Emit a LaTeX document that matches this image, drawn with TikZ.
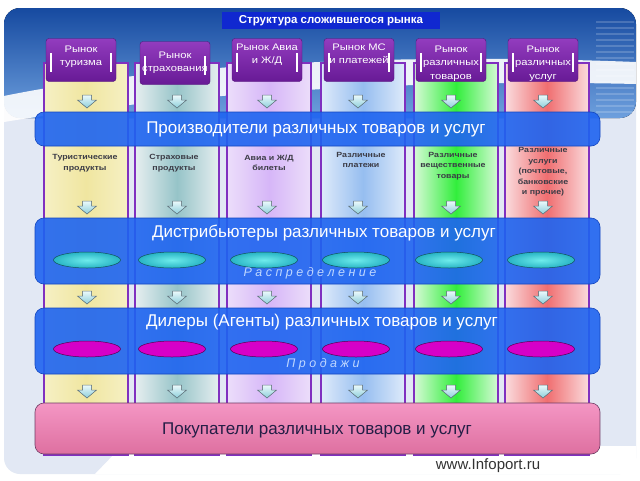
\documentclass[tikz,border=0pt]{standalone}
\usepackage{fontspec}
\setmainfont{Liberation Sans}
\newfontfamily\widesf[FakeStretch=1.18]{Liberation Sans}
\usetikzlibrary{shapes.geometric}

\definecolor{colpurple}{RGB}{128,48,192}
\definecolor{headtop}{RGB}{146,60,190}
\definecolor{headbot}{RGB}{104,26,150}
\definecolor{bandblue}{RGB}{30,100,240}
\definecolor{bandedge}{RGB}{20,70,190}
\definecolor{buytop}{RGB}{244,150,196}
\definecolor{buybot}{RGB}{222,112,160}
\definecolor{buyedge}{RGB}{110,60,100}
\definecolor{buytext}{RGB}{36,30,70}
\definecolor{titleblue}{RGB}{16,40,208}
\definecolor{topblueA}{RGB}{22,74,160}
\definecolor{topblueB}{RGB}{110,160,222}
\definecolor{slidebg}{RGB}{226,232,244}
\definecolor{arrtop}{RGB}{236,250,252}
\definecolor{arrbot}{RGB}{140,206,218}
\definecolor{arredge}{RGB}{100,120,130}
\definecolor{ellcyan}{RGB}{110,236,236}
\definecolor{ellcyanB}{RGB}{40,180,196}
\definecolor{ellmag}{RGB}{214,0,200}
\definecolor{coltextc}{RGB}{60,60,70}
\definecolor{bandlabel}{RGB}{190,215,255}
\definecolor{webgray}{RGB}{50,50,50}
% column shadings
\definecolor{yelA}{RGB}{246,240,196}
\definecolor{yelB}{RGB}{240,230,160}
\definecolor{tealA}{RGB}{230,238,240}
\definecolor{tealB}{RGB}{150,196,200}
\definecolor{lavA}{RGB}{236,222,250}
\definecolor{lavB}{RGB}{214,182,248}
\definecolor{bluA}{RGB}{222,234,250}
\definecolor{bluB}{RGB}{150,190,240}
\definecolor{grnA}{RGB}{214,250,214}
\definecolor{grnB}{RGB}{50,238,60}
\definecolor{redA}{RGB}{250,220,222}
\definecolor{redB}{RGB}{240,110,112}

\newcommand\dnarrow[2]{%
  \filldraw[flowarrow] (#1,#2) ++(-4.5,-6) -- ++(9,0) -- ++(0,5) -- ++(5,0)
    -- ++(-9.5,8) -- ++(-9.5,-8) -- ++(5,0) -- cycle;}

\begin{document}
\begin{tikzpicture}[x=1pt,y=-1pt,
  column/.style={draw=colpurple,line width=2.6pt,minimum width=84pt,minimum height=392pt,inner sep=0pt},
  header/.style={top color=headtop,bottom color=headbot,draw=headbot!80!black,line width=.4pt,
    rounded corners=3pt,minimum width=70pt,minimum height=43pt,inner sep=0pt},
  htext/.style={text=white,align=center,inner sep=0pt,font=\widesf\fontsize{9.5}{13.5}\selectfont},
  hbar/.style={white,line width=2.4pt},
  coltext/.style={text=coltextc,align=center,inner sep=0pt,font=\widesf\bfseries\fontsize{7.5}{10.5}\selectfont},
  band/.style={fill=bandblue,fill opacity=.9,draw=bandedge,line width=.6pt,rounded corners=9pt,
    minimum width=565pt,inner sep=0pt},
  bandtext/.style={text=white,font=\fontsize{17}{19}\selectfont,inner sep=0pt},
  flowarrow/.style={top color=arrtop,bottom color=arrbot,draw=arredge,line width=.5pt},
  distell/.style={ellipse,draw=ellcyanB!45!black,line width=.5pt,inner color=ellcyan,outer color=ellcyanB,
    minimum width=67pt,minimum height=16pt,inner sep=0pt},
  dealell/.style={ellipse,draw=ellmag!40!black,line width=.5pt,fill=ellmag,
    minimum width=67pt,minimum height=16pt,inner sep=0pt},
  spaced/.style={text=bandlabel,font=\itshape\fontsize{12.5}{14}\selectfont,inner sep=0pt}]

  \useasboundingbox (0,0) rectangle (640,480);

  % slide background
  \fill[white] (0,0) rectangle (640,480);
  \fill[slidebg,rounded corners=16pt] (4,8) rectangle (636,474);
  \fill[white] (95,474) -- (122,446) -- (636,446) -- (636,474) -- cycle;
  \fill[top color=topblueA,bottom color=topblueB,rounded corners=16pt]
    (4,118) -- (4,8) -- (636,8) -- (636,118) -- cycle;
  \foreach \yy in {22,28,...,112}
    \draw[white,opacity=.18,line width=1.5pt] (596,\yy) -- (634,\yy);
  \fill[white,opacity=.9] (4,96) .. controls (150,66) and (380,52) .. (636,62)
    -- (636,84) .. controls (380,78) and (150,98) .. (4,122) -- cycle;

  % title
  \node (title) [fill=titleblue,text=white,font=\bfseries\fontsize{11.5}{13}\selectfont,
    minimum width=218pt,minimum height=17pt,inner sep=0pt] at (331,20.5) {Структура сложившегося рынка};

  % columns
  \foreach \n/\cx/\ca/\cb in {1/86/yelA/yelB,2/177/tealA/tealB,3/269/lavA/lavB,
                              4/363/bluA/bluB,5/456/grnA/grnB,6/547/redA/redB}
    \node (col\n) [column,left color=\ca,right color=\ca,middle color=\cb] at (\cx,259) {};

  % headers
  \foreach \n/\hx/\hy in {1/81/60,2/175/63,3/267/60,4/359/60,5/451/60,6/543/60}{
    \node (head\n) [header] at (\hx,\hy) {};
    \draw[hbar] ([xshift=5pt,yshift=-15pt]head\n.north west) -- ++(0,19);
    \draw[hbar] ([xshift=-5pt,yshift=-15pt]head\n.north east) -- ++(0,19);
  }
  \node (htext1) [htext,below] at ([yshift=-7pt]head1.north) {Рынок\\туризма};
  \node (htext2) [htext,below] at ([yshift=-10pt]head2.north) {Рынок\\страхования};
  \node (htext3) [htext,below] at ([yshift=-5pt]head3.north) {Рынок Авиа\\и Ж/Д};
  \node (htext4) [htext,below] at ([yshift=-5pt]head4.north) {Рынок МС\\и платежей};
  \node (htext5) [htext,below] at ([yshift=-7pt]head5.north) {Рынок\\различных\\товаров};
  \node (htext6) [htext,below] at ([yshift=-7pt]head6.north) {Рынок\\различных\\услуг};

  % column texts
  \node (prod1) [coltext] at (85,163)  {Туристические\\продукты};
  \node (prod2) [coltext] at (174,163) {Страховые\\продукты};
  \node (prod3) [coltext] at (269,163) {Авиа и Ж/Д\\билеты};
  \node (prod4) [coltext] at (361,160) {Различные\\платежи};
  \node (prod5) [coltext] at (453,166) {Различные\\вещественные\\товары};
  \node (prod6) [coltext] at (543,172) {Различные\\услуги\\(почтовые,\\банковские\\и прочие)};

  % flow arrows
  \foreach \ay in {101,207,297,391}
    \foreach \ax in {87,177,267,358,451,543}
      \dnarrow{\ax}{\ay};

  % bands
  \node (makers) [band,minimum height=34pt] at (317.5,129) {};
  \node (makerstext) [bandtext] at (316,129) {Производители различных товаров и услуг};

  \node (distr) [band,minimum height=66pt] at (317.5,251) {};
  \node (distrtext) [bandtext] at (324,233) {Дистрибьютеры различных товаров и услуг};
  \foreach \n/\ex in {1/87,2/172,3/264,4/356,5/449,6/541}
    \node (dell\n) [distell] at (\ex,260) {};
  \node (distrlabel) [spaced] at (310,273) {Р а с п р е д е л е н и е};

  \node (deal) [band,minimum height=66pt] at (317.5,341) {};
  \node (dealtext) [bandtext] at (322,322) {Дилеры (Агенты) различных товаров и услуг};
  \foreach \n/\ex in {1/87,2/172,3/264,4/356,5/449,6/541}
    \node (mell\n) [dealell] at (\ex,349) {};
  \node (deallabel) [spaced] at (323,364) {П р о д а ж и};

  \node (buyers) [top color=buytop,bottom color=buybot,draw=buyedge,line width=.6pt,rounded corners=9pt,
    minimum width=565pt,minimum height=51pt,inner sep=0pt] at (317.5,428.5) {};
  \node (buyerstext) [bandtext,text=buytext] at (317,430) {Покупатели различных товаров и услуг};

  \node (site) [text=webgray,font=\fontsize{15}{17}\selectfont,inner sep=0pt] at (488,466) {www.Infoport.ru};
\end{tikzpicture}
\end{document}
